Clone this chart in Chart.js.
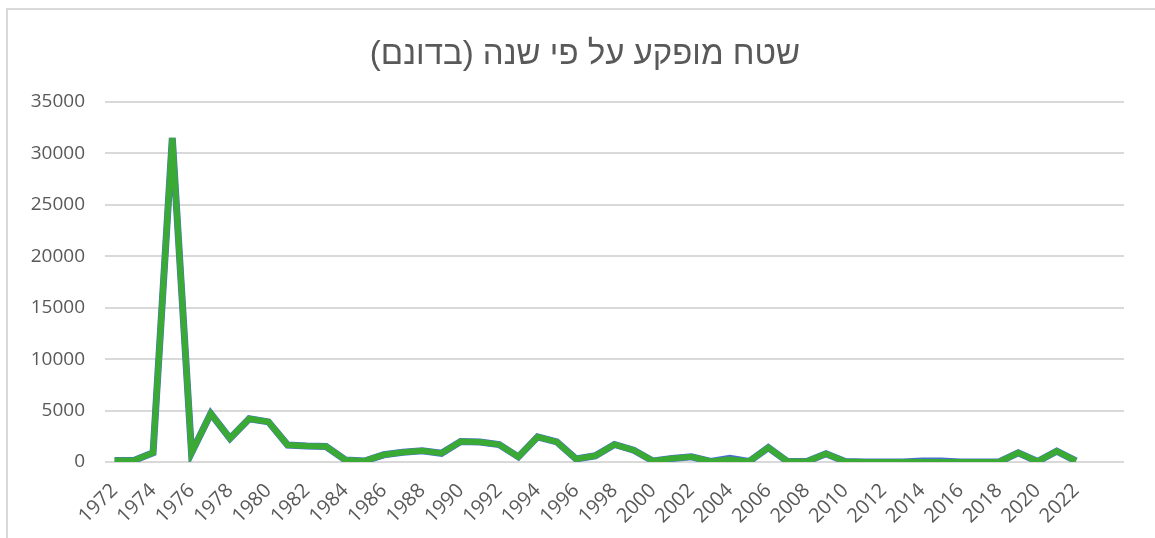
<!DOCTYPE html>
<html>
<head>
<meta charset="utf-8">
<script src="https://cdn.jsdelivr.net/npm/chart.js@4/dist/chart.umd.min.js"></script>
<style>
  html, body { margin: 0; padding: 0; background: #fff; overflow: hidden; }
  #frame { position: absolute; left: 6px; top: 8px; width: 1170px; height: 560px; border: 2px solid #d9d9d9; }
  #chart { position: absolute; left: 8px; top: 10px; }
</style>
</head>
<body>
<div id="frame"></div>
<canvas id="chart" width="1147" height="528"></canvas>
<script>
const TITLE = "\u200Fשטח מופקע על פי שנה (בדונם)\u200F";

// Excel range ran two blank rows past 2022
const years = [
  "1972", "1973", "1974", "1975", "1976", "1977", "1978", "1979", "1980", "1981",
  "1982", "1983", "1984", "1985", "1986", "1987", "1988", "1989", "1990", "1991",
  "1992", "1993", "1994", "1995", "1996", "1997", "1998", "1999", "2000", "2001",
  "2002", "2003", "2004", "2005", "2006", "2007", "2008", "2009", "2010", "2011",
  "2012", "2013", "2014", "2015", "2016", "2017", "2018", "2019", "2020", "2021",
  "2022", "", "",
];

const areaGreen = [
  150, 150, 900, 31500, 900, 4700, 2300, 4200, 3900, 1650,
  1550, 1500, 200, 100, 700, 950, 1100, 850, 2000, 1950,
  1700, 500, 2450, 1950, 300, 600, 1700, 1150, 100, 350,
  500, 50, 250, 50, 1400, 50, 50, 800, 50, 0,
  0, 0, 0, 0, 0, 0, 0, 900, 50, 1050,
  100,
];

const areaBlue = [
  150, 150, 900, 31500, 900, 4700, 2300, 4200, 3900, 1650,
  1550, 1500, 200, 100, 700, 950, 1100, 850, 2000, 1950,
  1700, 500, 2450, 1950, 300, 600, 1700, 1150, 100, 350,
  500, 50, 350, 50, 1400, 50, 50, 800, 50, 0,
  0, 0, 100, 100, 0, 0, 0, 900, 50, 1050,
  100,
];

const yTicks = [0, 5000, 10000, 15000, 20000, 25000, 30000, 35000];

const TEXT = "#595959";
const FONT = "'Open Sans', 'Liberation Sans', sans-serif";

// title drawn by hand so it sits centred on the whole frame, not the padded box
const titlePlugin = {
  id: "frameTitle",
  afterDraw(chart) {
    const ctx = chart.ctx;
    ctx.save();
    ctx.font = "33px 'Liberation Sans', 'DejaVu Sans', sans-serif";
    ctx.fillStyle = TEXT;
    ctx.textAlign = "center";
    ctx.textBaseline = "middle";
    ctx.fillText(TITLE, 577, 45);
    ctx.restore();
  },
};

new Chart(document.getElementById("chart"), {
  type: "line",
  data: {
    labels: years,
    datasets: [
      {
        label: "green",
        data: areaGreen,
        borderColor: "#3aaa35",
        borderWidth: 6,
        pointRadius: 0,
        tension: 0,
        order: 1,
      },
      {
        label: "blue",
        data: areaBlue,
        borderColor: "#4a6fd0",
        borderWidth: 7,
        pointRadius: 0,
        tension: 0,
        order: 2,
      },
    ],
  },
  plugins: [titlePlugin],
  options: {
    responsive: false,
    animation: false,
    devicePixelRatio: 1,
    layout: { padding: { left: 0, right: 31, top: 92, bottom: 0 } },
    plugins: {
      legend: { display: false },
      tooltip: { enabled: false },
      title: { display: false },
    },
    scales: {
      x: {
        type: "category",
        offset: true,
        grid: { display: false },
        border: { display: false },
        ticks: {
          autoSkip: false,
          minRotation: 45,
          maxRotation: 45,
          padding: 9,
          color: TEXT,
          font: { family: FONT, size: 20 },
          callback(value, index) {
            return index % 2 === 0 ? this.getLabelForValue(value) : "";
          },
        },
        afterFit(scale) {
          scale.height = 76;
        },
      },
      y: {
        min: yTicks[0],
        max: yTicks[yTicks.length - 1],
        border: { display: false },
        grid: { color: "#d9d9d9", lineWidth: 2, drawTicks: false },
        afterBuildTicks(scale) {
          scale.ticks = yTicks.map((v) => ({ value: v }));
        },
        ticks: {
          padding: 20,
          color: TEXT,
          font: { family: FONT, size: 19 },
          callback: (v) => String(v),
        },
        afterFit(scale) {
          scale.width = 97;
        },
      },
    },
  },
});
</script>
</body>
</html>
